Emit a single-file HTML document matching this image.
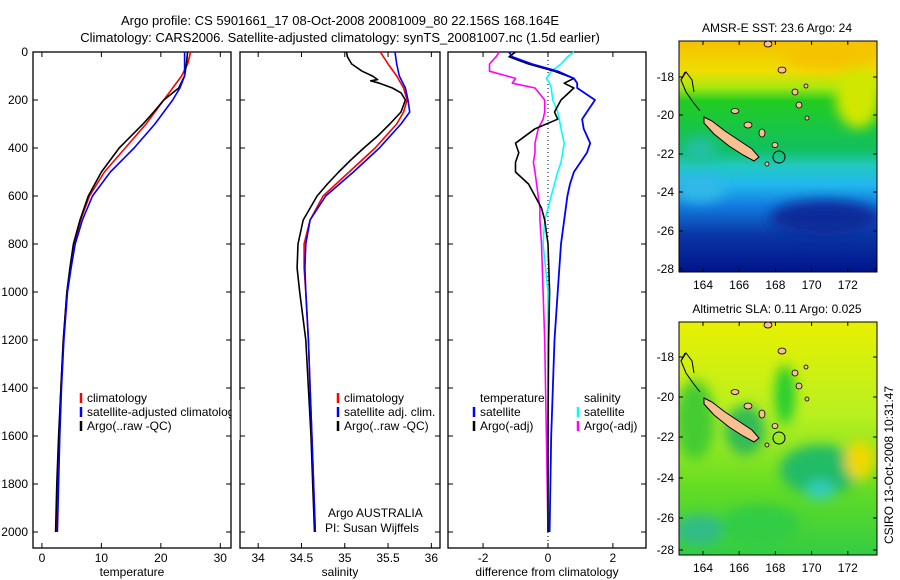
<!DOCTYPE html>
<html><head><meta charset="utf-8"><style>
body{margin:0;background:#fff}
svg{display:block;font-family:"Liberation Sans",sans-serif}
</style></head><body>
<svg id="c" width="900" height="580" xmlns="http://www.w3.org/2000/svg">
<defs>
<linearGradient id="sstg" x1="0" y1="0" x2="0" y2="1">
<stop offset="0" stop-color="#f5c000"/><stop offset="0.13" stop-color="#f0dd00"/><stop offset="0.2" stop-color="#a8e810"/>
<stop offset="0.26" stop-color="#22cc22"/><stop offset="0.47" stop-color="#11c060"/><stop offset="0.54" stop-color="#22c8c0"/>
<stop offset="0.62" stop-color="#22b8ee"/><stop offset="0.72" stop-color="#1178dd"/><stop offset="0.84" stop-color="#0a36a5"/><stop offset="1" stop-color="#00148a"/>
</linearGradient>
<linearGradient id="slag" x1="0" y1="0" x2="0" y2="1">
<stop offset="0" stop-color="#e8f000"/><stop offset="0.4" stop-color="#b8f020"/><stop offset="0.7" stop-color="#66dd22"/><stop offset="1" stop-color="#33cc44"/>
</linearGradient>
<filter id="bl"><feGaussianBlur stdDeviation="6"/></filter>
<clipPath id="cm1"><rect x="679" y="41" width="198" height="231"/></clipPath>
<clipPath id="cm2"><rect x="679" y="322" width="198" height="233"/></clipPath>
</defs>
<text x="340" y="25" font-size="13" text-anchor="middle">Argo profile: CS 5901661_17 08-Oct-2008 20081009_80 22.156S 168.164E</text>
<text x="340" y="42" font-size="13" text-anchor="middle">Climatology: CARS2006. Satellite-adjusted climatology: synTS_20081007.nc (1.5d earlier)</text>
<g id="g"></g>
<text transform="translate(893,465) rotate(-90)" font-size="12" text-anchor="middle">CSIRO 13-Oct-2008 10:31:47</text>
</svg>
<script>
const depth=[0,50,100,150,200,250,300,400,500,600,700,800,900,1000,1200,1400,1600,1800,2000];
const tClim=[25,24.5,23.5,22,20.5,19,17.5,14,10.5,8,6.5,5.5,4.8,4.2,3.6,3.2,2.9,2.7,2.5];
const tSat=[24,24,24,23.2,22,20.5,19,15.5,11.5,8.5,6.8,5.6,4.9,4.3,3.7,3.3,3.0,2.8,2.6];
const tArgo=[24.5,24.3,24,23,20.5,18.8,17,13,10,7.8,6.4,5.3,4.7,4.2,3.6,3.2,2.8,2.5,2.3];
const sClim=[35.41,35.5,35.6,35.68,35.72,35.68,35.6,35.35,35.05,34.75,34.6,34.53,34.53,34.55,34.58,34.6,34.62,34.64,34.66];
const sSat=[35.58,35.6,35.63,35.7,35.73,35.75,35.65,35.4,35.1,34.78,34.6,34.55,34.54,34.55,34.58,34.6,34.62,34.64,34.66];
const sDepthArgo=[0,20,50,80,100,115,120,130,150,170,200,250,300,350,400,450,500,550,600,700,800,900,1000,1200,1400,1600,1800,2000];
const sArgo=[35.02,35.03,35.08,35.2,35.32,35.38,35.3,35.4,35.55,35.65,35.7,35.65,35.52,35.38,35.22,35.07,34.93,34.8,34.68,34.52,34.46,34.45,34.48,34.55,34.58,34.61,34.63,34.65];
const ddepth=[0,20,50,80,110,130,150,200,250,280,320,380,420,460,500,550,600,650,700,800,1000,1200,1600,2000];
const dTSat=[-1.2,-1.1,-0.5,0.3,0.8,0.9,0.9,1.45,1.2,1.05,1.1,1.3,1.2,1.0,0.8,0.68,0.6,0.55,0.5,0.4,0.3,0.2,0.1,0.05];
const dTArgo=[-1.0,-1.2,-0.6,0.2,0.8,0.5,0.8,0.4,0.2,0.3,-0.4,-1.0,-0.9,-1.0,-1.0,-0.6,-0.4,-0.2,-0.1,0,0.05,0.02,0,0];
const dSArgo=[-1.5,-1.6,-1.8,-1.8,-1.0,-1.1,-0.4,-0.1,-0.1,-0.15,-0.3,-0.4,-0.4,-0.45,-0.4,-0.35,-0.3,-0.25,-0.25,-0.2,-0.15,-0.1,-0.05,0];
const dSSat=[0.8,0.6,0.4,0.1,-0.05,0.05,0.1,0.15,0.3,0.35,0.4,0.5,0.45,0.4,0.3,0.2,0.1,0,-0.1,-0.15,0,0,0,0];
const depthTicks=[0,200,400,600,800,1000,1200,1400,1600,1800,2000];
const tTicks=[0,10,20,30], sTicks=[34,34.5,35,35.5,36], dTicks=[-2,0,2];
const latTicks=[-18,-20,-22,-24,-26,-28], lonTicks=[164,166,168,170,172];

const NS="http://www.w3.org/2000/svg";
const G=document.getElementById('g');
function el(t,a,p){const e=document.createElementNS(NS,t);for(const k in a)e.setAttribute(k,a[k]);(p||G).appendChild(e);return e;}
const Y=d=>52+d*0.24;
const panels=[
 {x0:33,x1:231,vmin:-1.5,vmax:31.8,ticks:tTicks,lab:'temperature',name:'temperature-panel'},
 {x0:240,x1:440,vmin:33.79,vmax:36.1,ticks:sTicks,lab:'salinity',name:'salinity-panel'},
 {x0:448,x1:646,vmin:-3.08,vmax:3.02,ticks:dTicks,lab:'difference from climatology',name:'difference-panel'}];
function X(p,v){return p.x0+(v-p.vmin)/(p.vmax-p.vmin)*(p.x1-p.x0);}
panels.forEach((p,i)=>{
 const r=el('rect',{x:p.x0,y:52,width:p.x1-p.x0,height:496,fill:'none',stroke:'#000','stroke-width':1.3});
 
 
 p.ticks.forEach(v=>{const x=X(p,v);
  el('line',{x1:x,x2:x,y1:548,y2:543,stroke:'#000'});el('line',{x1:x,x2:x,y1:52,y2:57,stroke:'#000'});
  const t=el('text',{x:x,y:562,'font-size':12,'text-anchor':'middle'});t.textContent=v;
  
  });
 depthTicks.forEach(d=>{const y=Y(d);
  el('line',{x1:p.x0,x2:p.x0+5,y1:y,y2:y,stroke:'#000'});el('line',{x1:p.x1,x2:p.x1-5,y1:y,y2:y,stroke:'#000'});});
 const t=el('text',{x:(p.x0+p.x1)/2,y:576,'font-size':12,'text-anchor':'middle'});t.textContent=p.lab;
 
 
});
depthTicks.forEach(d=>{const t=el('text',{x:28,y:Y(d)+4,'font-size':12,'text-anchor':'end'});t.textContent=d;
 
 });
function line(p,ds,vs,col,w,name){
 const pts=ds.map((d,i)=>X(p,vs[i]).toFixed(1)+','+Y(d).toFixed(1)).join(' ');
 const e=el('polyline',{points:pts,fill:'none',stroke:col,'stroke-width':w,'stroke-linejoin':'round'});
 
 }
line(panels[0],depth,tClim,'#f00',1.6,'temp-climatology-line');
line(panels[0],depth,tArgo,'#000',1.6,'temp-argo-line');
line(panels[0],depth,tSat,'#00f',1.6,'temp-satellite-line');
line(panels[1],depth,sClim,'#f00',1.6,'sal-climatology-line');
line(panels[1],sDepthArgo,sArgo,'#000',1.6,'sal-argo-line');
line(panels[1],depth,sSat,'#00f',1.6,'sal-satellite-line');
const z=X(panels[2],0);
el('line',{x1:z,x2:z,y1:52,y2:548,stroke:'#000','stroke-dasharray':'1,3'});
line(panels[2],ddepth,dSArgo,'#f0f',1.6,'diff-sal-argo-line');
line(panels[2],ddepth,dSSat,'#0ff',1.6,'diff-sal-satellite-line');
line(panels[2],ddepth,dTArgo,'#000',1.6,'diff-temp-argo-line');
line(panels[2],ddepth,dTSat,'#00f',1.8,'diff-temp-satellite-line');
function leg(x,y,col,txt,name){
 el('line',{x1:x,x2:x,y1:y-9,y2:y+1,stroke:col,'stroke-width':2.5});
 const t=el('text',{x:x+6,y:y,'font-size':12});t.textContent=txt;
 
 }
leg(81,402,'#f00','climatology','legend-climatology');
leg(81,416,'#00f','satellite-adjusted climatology','legend-satellite');
leg(81,430,'#000','Argo(..raw -QC)','legend-argo');
el('rect',{x:231.7,y:400,width:8,height:40,fill:'#fff'});
leg(338,402,'#f00','climatology','legend2-climatology');
leg(338,416,'#00f','satellite adj. clim.','legend2-satellite');
leg(338,430,'#000','Argo(..raw -QC)','legend2-argo');
[['Argo AUSTRALIA',328,517],['PI: Susan Wijffels',325,532]].forEach(a=>{const t=el('text',{x:a[1],y:a[2],'font-size':12});t.textContent=a[0];
 
 });
[['temperature',480,402],['salinity',584,402]].forEach(a=>{const t=el('text',{x:a[1],y:a[2],'font-size':12});t.textContent=a[0];
 
 });
leg(474,416,'#00f','satellite','legend3-temp-satellite');
leg(474,430,'#000','Argo(-adj)','legend3-temp-argo');
leg(578,416,'#0ff','satellite','legend3-sal-satellite');
leg(578,430,'#f0f','Argo(-adj)','legend3-sal-argo');

// maps
function map(y0,h,fill,clip,blobs,title,name,latY){
 const g=el('g',{'clip-path':'url(#'+clip+')'});
 
 
 el('rect',{x:679,y:y0,width:198,height:h,fill:fill},g);
 const bg=el('g',{filter:'url(#bl)'},g);
 blobs.forEach(b=>el('ellipse',{cx:b[0],cy:y0+b[1],rx:b[2],ry:b[3],fill:b[4]},bg));
 const o=y0-41;
 el('polygon',{points:[[704,117],[712,121],[725,131],[740,141],[752,149],[759,157],[754,161],[743,155],[729,146],[714,134],[704,123]].map(q=>q[0]+','+(q[1]+o)).join(' '),fill:'#f8c090',stroke:'#000','stroke-width':1},g);
 el('polyline',{points:[[685,72],[681,80],[686,92],[693,102],[700,111]].map(q=>q[0]+','+(q[1]+o)).join(' '),fill:'none',stroke:'#000','stroke-width':1},g);
 el('path',{d:`M681 ${80+o} L686 ${72+o} L692 ${80+o} L694 ${92+o}`,fill:'none',stroke:'#000'},g);
 [[768,44,4,3],[782,70,4,3],[795,92,3,3],[799,105,3,3],[735,111,4,2.5],[748,125,4,3],[762,133,3,4],[775,145,3,2.5],[767,164,2,2],[807,118,2,2],[806,86,2,2]].forEach(q=>el('ellipse',{cx:q[0],cy:q[1]+o,rx:q[2],ry:q[3],fill:'#f8c090',stroke:'#000','stroke-width':0.8},g));
 el('circle',{cx:779,cy:157+o,r:6,fill:'none',stroke:'#000'},g);
 el('rect',{x:679,y:y0,width:198,height:h,fill:'none',stroke:'#000'});
 lonTicks.forEach(v=>{const x=703+(v-164)*18.1;el('line',{x1:x,x2:x,y1:y0+h,y2:y0+h-4,stroke:'#000'});el('line',{x1:x,x2:x,y1:y0,y2:y0+4,stroke:'#000'});
  const t=el('text',{x:x,y:y0+h+17,'font-size':12,'text-anchor':'middle'});t.textContent=v;
  
  });
 latTicks.forEach((v,i)=>{const y=latY[i];el('line',{x1:877,x2:873,y1:y,y2:y,stroke:'#000'});el('line',{x1:679,x2:683,y1:y,y2:y,stroke:'#000'});
  const t=el('text',{x:674,y:y+4,'font-size':12,'text-anchor':'end'});t.textContent=v;
  
  });
 const t=el('text',{x:777,y:y0-9,'font-size':12,'text-anchor':'middle'});t.textContent=title;
 
 
}
map(41,231,'url(#sstg)','cm1',[[858,98,22,30,'#d0e800'],[830,55,45,16,'#f5c400'],[825,218,55,18,'#0a2a9a'],[700,188,25,14,'#30b8e8'],[700,150,18,14,'#20c0a0']].map(b=>[b[0],b[1]-41,b[2],b[3],b[4]]),'AMSR-E SST: 23.6 Argo: 24','sst-map',[77,115,154,192,231,269]);
map(322,233,'url(#slag)','cm2',[[840,30,40,18,'#f0d800'],[695,420,20,40,'#44cc33'],[745,430,20,25,'#33bb55'],[785,395,10,30,'#22cc33'],[820,470,40,25,'#22bb66'],[820,490,15,10,'#33ccbb'],[860,460,15,20,'#f0d800'],[700,530,25,15,'#33bb88'],[760,525,40,20,'#33cc44']].map(b=>[b[0],b[1]-322,b[2],b[3],b[4]]),'Altimetric SLA: 0.11 Argo: 0.025','sla-map',[357,397,437,478,518,550]);
</script>
</body></html>
